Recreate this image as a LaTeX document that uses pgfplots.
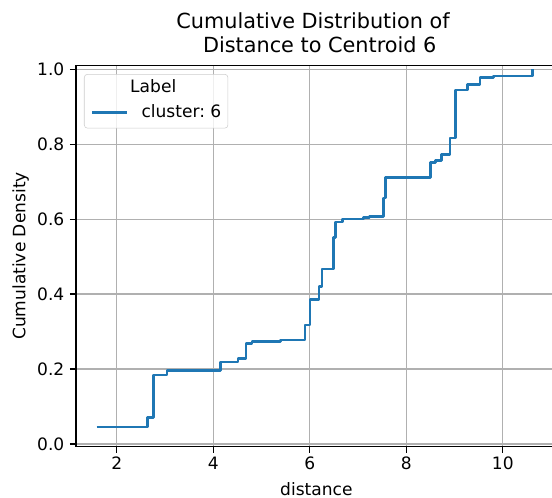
\documentclass[border=0pt]{standalone}
\usepackage{fontspec}
\setmainfont{DejaVu Sans}
\usepackage{pgfplots}
\pgfplotsset{compat=1.18}
\frenchspacing

\definecolor{mplblue}{HTML}{1F77B4}
\definecolor{gridgray}{HTML}{B0B0B0}
\definecolor{legendedge}{HTML}{CCCCCC}

\newcommand\basefont{\fontsize{12.8}{15.4}\selectfont}
\newcommand\titlefont{\fontsize{15.6}{18.4}\selectfont}

% empirical CDF of the distances: x = distance, y = cumulative density after the step
\pgfplotstableread{
x       y
1.585   0.046
2.634   0.071
2.760   0.184
3.040   0.196
4.155   0.219
4.510   0.228
4.680   0.269
4.800   0.274
5.400   0.278
5.900   0.318
6.006   0.386
6.190   0.420
6.250   0.467
6.490   0.552
6.530   0.593
6.675   0.601
7.110   0.604
7.235   0.608
7.525   0.657
7.575   0.712
8.500   0.751
8.600   0.757
8.735   0.773
8.910   0.817
9.026   0.945
9.275   0.960
9.530   0.979
9.805   0.982
10.610  1.000
}\ecdf

\begin{document}
\begin{tikzpicture}
\begin{axis}[
  name=ax,
  scale only axis,
  width=360.6pt, height=286.05pt,
  xmin=1.156, xmax=11.12,
  ymin=-0.0072, ymax=1.0107,
  xtick={2,4,6,8,10},
  ytick={0,0.2,0.4,0.6,0.8,1.0},
  tick pos=left, tick align=outside,
  major tick length=4.56pt,
  every tick/.style={black, line width=1.04pt},
  axis line style={line width=1.04pt},
  grid=major,
  major grid style={gridgray, line width=1.04pt},
  /pgf/number format/assume math mode=true,
  ticklabel style={font=\basefont, inner sep=0pt},
  xticklabel style={anchor=north, yshift=-3pt},
  yticklabel style={anchor=east, xshift=-4pt},
  yticklabel style={/pgf/number format/.cd, fixed, fixed zerofill, precision=1},
  every axis title/.style={at={([yshift=9pt]axis description cs:0.5,1)}, anchor=south,
    align=center, inner sep=0pt, font=\titlefont},
  title={Cumulative Distribution of\hspace*{0.32em}\\\hspace*{0.32em}Distance to Centroid 6},
  every axis x label/.style={at={([yshift=-36.5pt]axis description cs:0.5,0)}, anchor=base,
    inner sep=0pt, font=\basefont},
  every axis y label/.style={at={([xshift=-37.9pt]axis description cs:0,0.5)}, rotate=90,
    anchor=base, inner sep=0pt, font=\basefont},
  xlabel={distance},
  ylabel={Cumulative Density},
  legend style={
    at={([xshift=6pt,yshift=-6.5pt]axis description cs:0,1)}, anchor=north west,
    draw=legendedge, rounded corners=2.5pt,
    fill=white, fill opacity=0.8, text opacity=1,
    font=\basefont,
    inner xsep=5pt, inner ysep=4pt,
    row sep=6pt, column sep=10pt,
    nodes={inner sep=0pt, text height=9.9pt, text depth=2.6pt},
  },
  legend cell align=left,
  legend image code/.code={
    \path[draw=none, fill=none] (0pt,-7.7pt) rectangle (26pt,1pt);
    \pgfsetlinewidth{1.95pt}
    \draw[mplblue, rounded corners=0pt, line width=1.95pt, draw opacity=1] (0pt,0pt) -- (26pt,0pt);
  },
]
\addlegendimage{empty legend}
\addlegendentry{\hspace*{-8.5pt}Label}
\addplot[const plot, mplblue, line width=1.95pt, line join=round] table[x=x, y=y] {\ecdf};
\addlegendentry{cluster: 6}
\end{axis}
\pgfresetboundingbox
\useasboundingbox ([shift={(-57pt,-37.7pt)}]ax.south west) rectangle ([shift={(357pt,49pt)}]ax.north west);
\end{tikzpicture}
\end{document}
